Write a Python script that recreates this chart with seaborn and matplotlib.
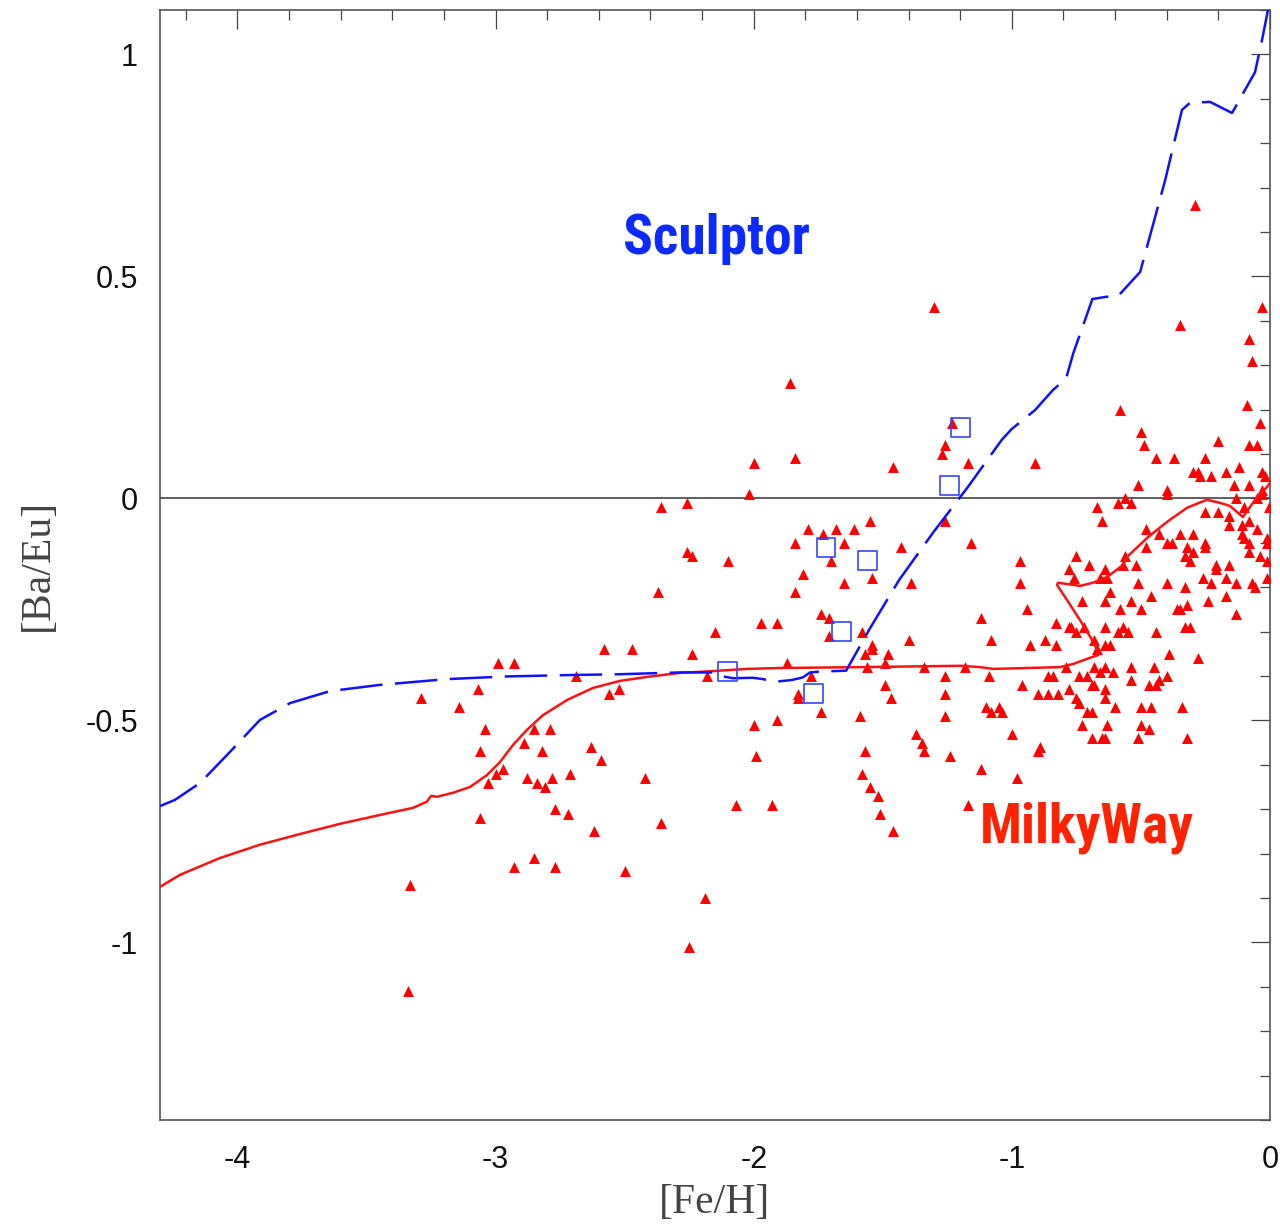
import numpy as np
import pandas as pd
import matplotlib
matplotlib.use("Agg")
import matplotlib.pyplot as plt
import seaborn as sns
from matplotlib.ticker import MultipleLocator, FixedLocator, FixedFormatter
from matplotlib import font_manager

# ---------------- data ----------------
# Milky Way stars ([Fe/H], [Ba/Eu]) -- red triangles
mw_feh = [
    -3.34, -3.33, -3.29, -2.37, -1.97, -1.91, -2.15, -2.58, -2.47, -2.24,
    -2.99, -2.93, -2.69, -2.18, -3.07, -2.56, -2.52, -3.14, -2.00, -1.91,
    -3.04, -2.85, -2.79, -2.89, -3.06, -2.82, -2.63, -1.99, -2.59, -2.97,
    -3.00, -2.71, -3.03, -2.88, -2.84, -2.78, -2.81, -2.42, -2.07, -1.93,
    -2.77, -2.72, -3.06, -2.36, -2.62, -2.85, -2.93, -2.77, -2.50, -2.19,
    -2.25,
    -1.86, -2.00, -1.84, -1.46, -1.26, -1.27, -1.23, -1.17, -0.91, -2.02,
    -2.36, -2.26, -1.55, -1.79, -1.68, -1.61, -1.73, -1.84, -1.65, -1.26,
    -1.16, -1.43, -2.26, -2.24, -2.10, -1.70, -0.97, -1.81, -1.84, -1.65,
    -1.54, -1.39, -0.97, -0.94, -1.12, -1.74, -1.71, -1.71, -1.58, -1.40,
    -1.08, -0.93, -1.54, -1.54, -1.57, -1.48, -1.87,
    -0.83, -0.87, -0.83, -1.78, -1.56, -1.49, -1.34, -1.18, -1.26, -1.09,
    -1.49, -1.47, -1.26, -0.96, -0.86, -0.84, -0.90, -0.86, -0.82, -1.83,
    -1.83, -1.74, -1.59, -1.26, -1.10, -1.08, -1.05, -1.04, -1.37, -1.35,
    -1.34, -1.24, -1.57, -1.00, -0.89, -0.90, -1.58, -1.55, -1.52, -1.51,
    -1.46, -1.12, -0.98, -1.17,
    -0.03, -0.35, -0.08, -0.07, -0.58, -0.09, -0.04, -0.50, -0.49, -0.20,
    -0.08, -0.05, -0.44, -0.37, -0.25, -0.30, -0.28, -0.27, -0.23, -0.17,
    -0.12, -0.03, -0.02, -0.51, -0.40, -0.40, -0.14, -0.08, -0.56, -0.59,
    -0.54, -0.67, -0.65, -0.13, -0.05, -0.03, -0.03, -0.25, -0.20, -0.16,
    -0.10, -0.005, -0.16, -0.11, -0.08, -0.05, -0.48, -0.43, -0.35, -0.30,
    -0.11, -0.10, -0.40, -0.38, -0.25, -0.25, -0.08, -0.01, -0.01, -0.48,
    -0.32, -0.30, -0.33, -0.31, -0.56, -0.75, -0.08, -0.04, -0.01, -0.78,
    -0.70, -0.64, -0.57, -0.52, -0.21, -0.21, -0.16,
    -0.76, -0.66, -0.63, -0.51, -0.40, -0.26, -0.23, -0.17, -0.13, -0.07,
    -0.06, -0.01, -0.33, -0.62, -0.73, -0.64, -0.54, -0.46, -0.24, -0.17,
    -0.58, -0.50, -0.36, -0.35, -0.32, -0.13, -0.78, -0.77, -0.75, -0.72,
    -0.64, -0.59, -0.57, -0.55, -0.44, -0.33, -0.31, -0.68, -0.64, -0.62,
    -0.67, -0.39, -0.28, -0.79, -0.68, -0.64, -0.66, -0.61, -0.54, -0.45,
    -0.74, -0.71, -0.40, -0.54, -0.43, -0.47, -0.44, -0.69, -0.68, -0.78,
    -0.64, -0.75, -0.74, -0.64, -0.71, -0.69, -0.60, -0.50, -0.46, -0.34,
    -0.73, -0.63, -0.50, -0.47, -0.69, -0.65, -0.64, -0.51, -0.32,
    -1.30, -0.29,
]
mw_baeu = [
    -1.11, -0.87, -0.45, -0.21, -0.28, -0.28, -0.30, -0.34, -0.34, -0.35,
    -0.37, -0.37, -0.40, -0.40, -0.43, -0.44, -0.43, -0.47, -0.51, -0.50,
    -0.52, -0.52, -0.52, -0.55, -0.57, -0.57, -0.56, -0.58, -0.59, -0.61,
    -0.62, -0.62, -0.64, -0.63, -0.64, -0.63, -0.65, -0.63, -0.69, -0.69,
    -0.70, -0.71, -0.72, -0.73, -0.75, -0.81, -0.83, -0.83, -0.84, -0.90,
    -1.01,
    0.26, 0.08, 0.09, 0.07, 0.12, 0.10, 0.17, 0.08, 0.08, 0.01,
    -0.02, -0.01, -0.05, -0.07, -0.07, -0.07, -0.08, -0.10, -0.10, -0.05,
    -0.10, -0.11, -0.12, -0.13, -0.14, -0.14, -0.14, -0.17, -0.21, -0.19,
    -0.18, -0.19, -0.19, -0.25, -0.27, -0.26, -0.27, -0.31, -0.30, -0.32,
    -0.32, -0.33, -0.33, -0.34, -0.35, -0.35, -0.37,
    -0.28, -0.32, -0.33, -0.40, -0.38, -0.37, -0.38, -0.38, -0.40, -0.40,
    -0.42, -0.45, -0.44, -0.42, -0.40, -0.40, -0.44, -0.44, -0.44, -0.44,
    -0.45, -0.48, -0.49, -0.49, -0.47, -0.48, -0.47, -0.48, -0.53, -0.55,
    -0.57, -0.58, -0.57, -0.53, -0.56, -0.57, -0.62, -0.65, -0.67, -0.71,
    -0.75, -0.61, -0.63, -0.69,
    0.43, 0.39, 0.36, 0.31, 0.20, 0.21, 0.17, 0.15, 0.12, 0.13,
    0.12, 0.12, 0.09, 0.09, 0.09, 0.06, 0.06, 0.05, 0.05, 0.06,
    0.07, 0.06, 0.05, 0.03, 0.02, 0.01, 0.03, 0.03, 0.00, -0.01,
    -0.01, -0.02, -0.05, 0.00, 0.00, 0.02, 0.01, -0.03, -0.03, -0.04,
    -0.02, -0.02, -0.06, -0.06, -0.05, -0.07, -0.07, -0.08, -0.08, -0.08,
    -0.08, -0.09, -0.10, -0.10, -0.10, -0.11, -0.10, -0.09, -0.10, -0.11,
    -0.11, -0.12, -0.13, -0.14, -0.13, -0.13, -0.12, -0.13, -0.14, -0.16,
    -0.15, -0.16, -0.15, -0.15, -0.15, -0.16, -0.15,
    -0.18, -0.18, -0.18, -0.19, -0.19, -0.18, -0.19, -0.18, -0.19, -0.19,
    -0.20, -0.18, -0.20, -0.21, -0.23, -0.23, -0.23, -0.22, -0.23, -0.22,
    -0.25, -0.25, -0.25, -0.25, -0.24, -0.26, -0.29, -0.29, -0.30, -0.29,
    -0.29, -0.30, -0.29, -0.30, -0.30, -0.29, -0.29, -0.32, -0.33, -0.33,
    -0.34, -0.35, -0.36, -0.38, -0.38, -0.38, -0.39, -0.39, -0.38, -0.38,
    -0.40, -0.40, -0.40, -0.41, -0.41, -0.42, -0.42, -0.42, -0.42, -0.43,
    -0.43, -0.45, -0.46, -0.45, -0.48, -0.48, -0.47, -0.47, -0.47, -0.47,
    -0.51, -0.51, -0.51, -0.52, -0.54, -0.54, -0.54, -0.54, -0.54,
    0.43, 0.66,
]

# Sculptor stars -- open blue squares
scl_feh = [-2.10, -1.77, -1.72, -1.56, -1.66, -1.24, -1.20]
scl_baeu = [-0.39, -0.44, -0.11, -0.14, -0.30, 0.03, 0.16]

# Milky Way chemical-evolution model (solid red)
mw_model_feh = [
    -4.300, -4.223, -4.068, -3.913, -3.758, -3.603, -3.448, -3.320, -3.266, -3.250,
    -3.227, -3.165, -3.099, -3.033, -2.983, -2.932, -2.878, -2.816, -2.723, -2.623,
    -2.518, -2.413, -2.286, -2.158, -2.026, -1.898, -1.588, -1.201, -1.123, -1.073,
    -0.941, -0.813, -0.763, -0.697, -0.666, -0.670, -0.689, -0.736, -0.786, -0.825,
    -0.821, -0.736, -0.686, -0.631, -0.569, -0.554, -0.476, -0.399, -0.321, -0.244,
    -0.194, -0.155, -0.105, -0.077, -0.050, -0.011, 0.000,
]
mw_model_baeu = [
    -0.875, -0.848, -0.810, -0.780, -0.756, -0.733, -0.713, -0.697, -0.683, -0.670,
    -0.672, -0.663, -0.650, -0.623, -0.594, -0.555, -0.521, -0.488, -0.454, -0.427,
    -0.411, -0.402, -0.393, -0.389, -0.384, -0.382, -0.380, -0.377, -0.380, -0.384,
    -0.382, -0.380, -0.373, -0.359, -0.353, -0.341, -0.319, -0.274, -0.229, -0.195,
    -0.190, -0.197, -0.190, -0.177, -0.150, -0.132, -0.089, -0.053, -0.021, -0.003,
    -0.010, -0.017, -0.042, -0.019, 0.003, 0.026, 0.035,
]

# Sculptor chemical-evolution model (dashed blue)
scl_model_feh = [
    -4.300, -4.242, -4.145, -4.029, -3.913, -3.796, -3.641, -3.448, -3.188, -2.956,
    -2.723, -2.518, -2.286, -2.158, -2.119, -2.080, -2.003, -1.964, -1.917, -1.852,
    -1.809, -1.782, -1.743, -1.642, -1.549, -1.437, -1.305, -1.170, -1.039, -1.001,
    -0.910, -0.841, -0.790, -0.762, -0.688, -0.635, -0.588, -0.503, -0.406, -0.341,
    -0.310, -0.232, -0.147, -0.058, -0.031, 0.000,
]
scl_model_baeu = [
    -0.693, -0.679, -0.641, -0.571, -0.499, -0.461, -0.434, -0.420, -0.407, -0.401,
    -0.398, -0.396, -0.392, -0.392, -0.401, -0.405, -0.404, -0.407, -0.413, -0.409,
    -0.403, -0.392, -0.390, -0.388, -0.292, -0.184, -0.077, 0.026, 0.132, 0.156,
    0.199, 0.244, 0.270, 0.327, 0.449, 0.454, 0.456, 0.510, 0.717, 0.875,
    0.891, 0.893, 0.868, 0.960, 1.032, 1.123,
]

x_ticks = [-4, -3, -2, -1, 0]
x_tick_labels = ["-4", "-3", "-2", "-1", "0"]
y_ticks = [-1, -0.5, 0, 0.5, 1]
y_tick_labels = ["-1", "-0.5", "0", "0.5", "1"]

# ---------------- plot ----------------
sns.set_theme(style="white")
plt.rcParams['font.family'] = ['Liberation Sans', 'DejaVu Sans']

# pick a condensed bold face if one is installed
_names = {f.name for f in font_manager.fontManager.ttflist}
_cond = [n for n in ["Roboto Condensed", "Liberation Sans Narrow", "Open Sans Condensed",
                     "DejaVu Sans Condensed"] if n in _names]
label_family = _cond + ["DejaVu Sans"]
label_size = 40 if _cond else 33

fig = plt.figure(figsize=(12.8, 12.25), dpi=100)
ax = fig.add_axes([160 / 1280, 1 - 1120 / 1225, 1110 / 1280, 1110 / 1225])

ax.axhline(0, color='#333333', lw=1.1, zorder=1)

mw_df = pd.DataFrame({"feh": mw_feh, "baeu": mw_baeu})
sns.scatterplot(data=mw_df, x="feh", y="baeu", marker="^", s=62,
                color="#ff0000", linewidth=0, ax=ax, zorder=3, legend=False)

mwm = pd.DataFrame({"feh": mw_model_feh, "baeu": mw_model_baeu})
sns.lineplot(data=mwm, x="feh", y="baeu", sort=False, estimator=None,
             color="#ff1111", lw=1.8, ax=ax, zorder=4, legend=False)

sclm = pd.DataFrame({"feh": scl_model_feh, "baeu": scl_model_baeu})
sns.lineplot(data=sclm, x="feh", y="baeu", sort=False, estimator=None,
             color="#1010ff", lw=1.8, ax=ax, zorder=4, legend=False)
ax.lines[-1].set_dashes((17, 5))

scl_df = pd.DataFrame({"feh": scl_feh, "baeu": scl_baeu})
sns.scatterplot(data=scl_df, x="feh", y="baeu", marker="s", s=185,
                facecolor="none", edgecolor="#3344ff", linewidth=1.2,
                ax=ax, zorder=5, legend=False)

ax.set_xlim(-4.3, 0)
ax.set_ylim(-1.4, 1.1)
ax.xaxis.set_major_locator(FixedLocator(x_ticks))
ax.xaxis.set_major_formatter(FixedFormatter(x_tick_labels))
ax.xaxis.set_minor_locator(MultipleLocator(0.2))
ax.yaxis.set_major_locator(FixedLocator(y_ticks))
ax.yaxis.set_major_formatter(FixedFormatter(y_tick_labels))
ax.yaxis.set_minor_locator(MultipleLocator(0.1))

ax.tick_params(which="both", direction="in", top=True, right=True,
               color="#444444", width=0.9)
ax.tick_params(which="major", length=14, labelsize=22, labelcolor="#111111")
ax.tick_params(which="minor", length=7.5)
ax.tick_params(axis="x", which="major", pad=18)
ax.tick_params(axis="y", which="major", pad=16)

for sp in ax.spines.values():
    sp.set_color("#555555")
    sp.set_linewidth(1.2)

ax.set_xlabel("[Fe/H]", family=["Liberation Serif", "DejaVu Serif"],
              fontsize=30, color="#444444", labelpad=6)
ax.set_ylabel("[Ba/Eu]", family=["Liberation Serif", "DejaVu Serif"],
              fontsize=30, color="#444444", labelpad=20)

ax.text(-2.146, 0.585, "Sculptor", color="#0a2aff", fontsize=label_size,
        fontweight="bold", ha="center", va="center",
        family=label_family, fontstretch="condensed")
ax.text(-0.709, -0.742, "MilkyWay", color="#ff2200", fontsize=label_size,
        fontweight="bold", ha="center", va="center",
        family=label_family, fontstretch="condensed")

fig.savefig("out.png", dpi=100)
